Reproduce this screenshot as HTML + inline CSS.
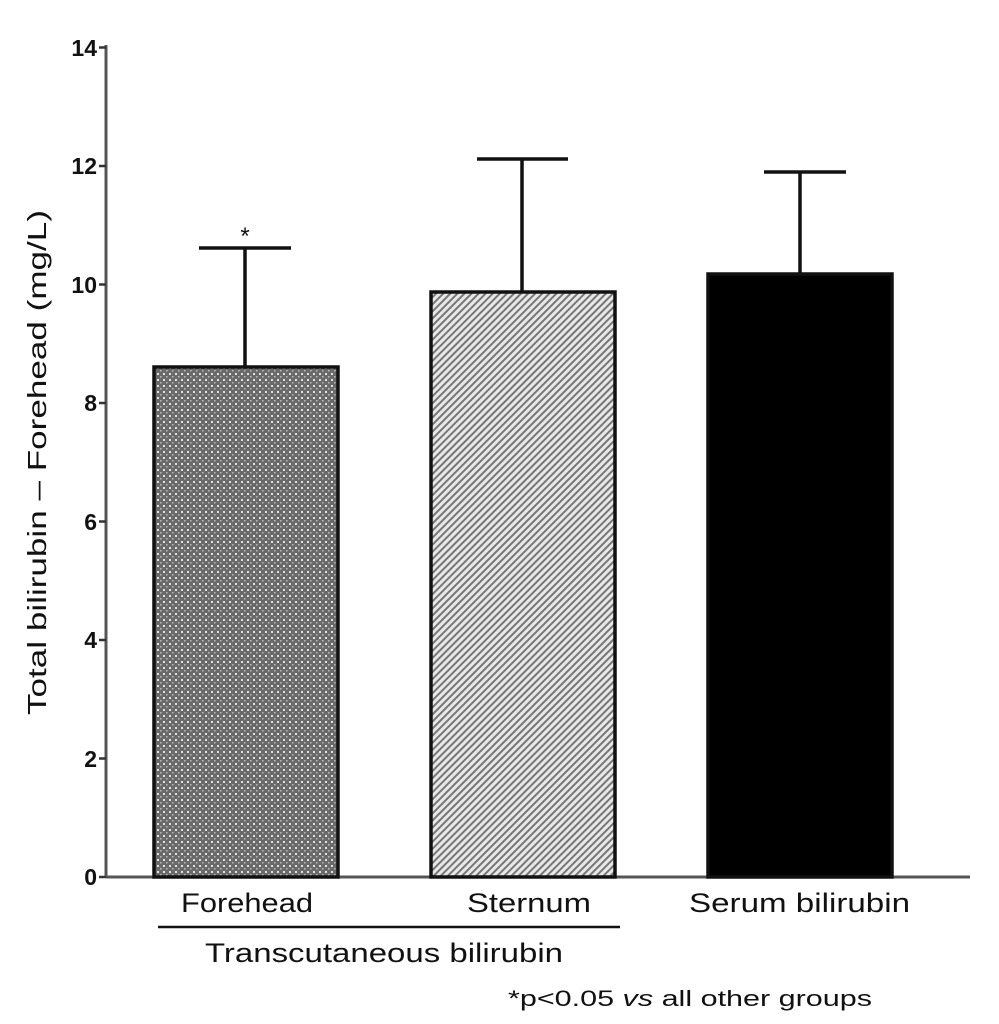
<!DOCTYPE html>
<html><head><style>body{margin:0;background:#fff}svg{display:block}text{font-family:"Liberation Sans",Arial,sans-serif;fill:#111}</style></head><body>
<svg width="999" height="1024" viewBox="0 0 999 1024">
<defs>
<pattern id="dots" width="6" height="6" patternUnits="userSpaceOnUse"><rect width="6" height="6" fill="#6a6a6a"/><rect x="1" y="1" width="2" height="2" fill="#e0e0e0"/><rect x="4" y="4" width="1.5" height="1.5" fill="#bbb"/></pattern>
<pattern id="hatch" width="5" height="5" patternUnits="userSpaceOnUse" patternTransform="rotate(45)"><rect width="5" height="5" fill="#e8e8e8"/><rect width="2" height="5" fill="#777"/></pattern>
</defs>
<g stroke="#555" stroke-width="3">
<line x1="106" y1="45" x2="106" y2="877"/>
<line x1="106" y1="877" x2="970" y2="877"/>
</g>
<g stroke="#333" stroke-width="2.5">
<line x1="99" y1="877" x2="106" y2="877"/><line x1="99" y1="758.5" x2="106" y2="758.5"/><line x1="99" y1="640" x2="106" y2="640"/><line x1="99" y1="521.5" x2="106" y2="521.5"/><line x1="99" y1="403" x2="106" y2="403"/><line x1="99" y1="284.5" x2="106" y2="284.5"/><line x1="99" y1="166" x2="106" y2="166"/><line x1="99" y1="47.5" x2="106" y2="47.5"/>
</g>
<g font-size="23" font-weight="bold" text-anchor="end">
<text x="97" y="885">0</text><text x="97" y="767">2</text><text x="97" y="648">4</text><text x="97" y="530">6</text><text x="97" y="411">8</text><text x="97" y="293">10</text><text x="97" y="174">12</text><text x="97" y="56">14</text>
</g>
<text transform="translate(46,715) rotate(-90)" font-size="26" textLength="505" lengthAdjust="spacingAndGlyphs">Total bilirubin – Forehead (mg/L)</text>
<g stroke="#111" stroke-width="3.5">
<line x1="245" y1="367" x2="245" y2="248"/><line x1="199" y1="248" x2="291" y2="248"/>
<line x1="522" y1="292" x2="522" y2="159"/><line x1="477" y1="159" x2="568" y2="159"/>
<line x1="800" y1="274" x2="800" y2="172"/><line x1="764" y1="172" x2="846" y2="172"/>
<rect x="154" y="367" width="184" height="510" fill="url(#dots)"/>
<rect x="431" y="292" width="184" height="585" fill="url(#hatch)"/>
<rect x="708" y="274" width="184" height="603" fill="#000"/>
<line x1="158" y1="927" x2="620" y2="927" stroke-width="2.5"/>
</g>
<text x="245" y="244" font-size="24" text-anchor="middle">*</text>
<g font-size="27">
<text x="181" y="912" textLength="132" lengthAdjust="spacingAndGlyphs">Forehead</text>
<text x="467" y="912" textLength="124" lengthAdjust="spacingAndGlyphs">Sternum</text>
<text x="689" y="912" textLength="221" lengthAdjust="spacingAndGlyphs">Serum bilirubin</text>
<text x="205" y="962" textLength="358" lengthAdjust="spacingAndGlyphs">Transcutaneous bilirubin</text>
</g>
<text x="508" y="1006" font-size="22" textLength="364" lengthAdjust="spacingAndGlyphs">*p&lt;0.05 <tspan font-style="italic">vs</tspan> all other groups</text>
</svg>
</body></html>
